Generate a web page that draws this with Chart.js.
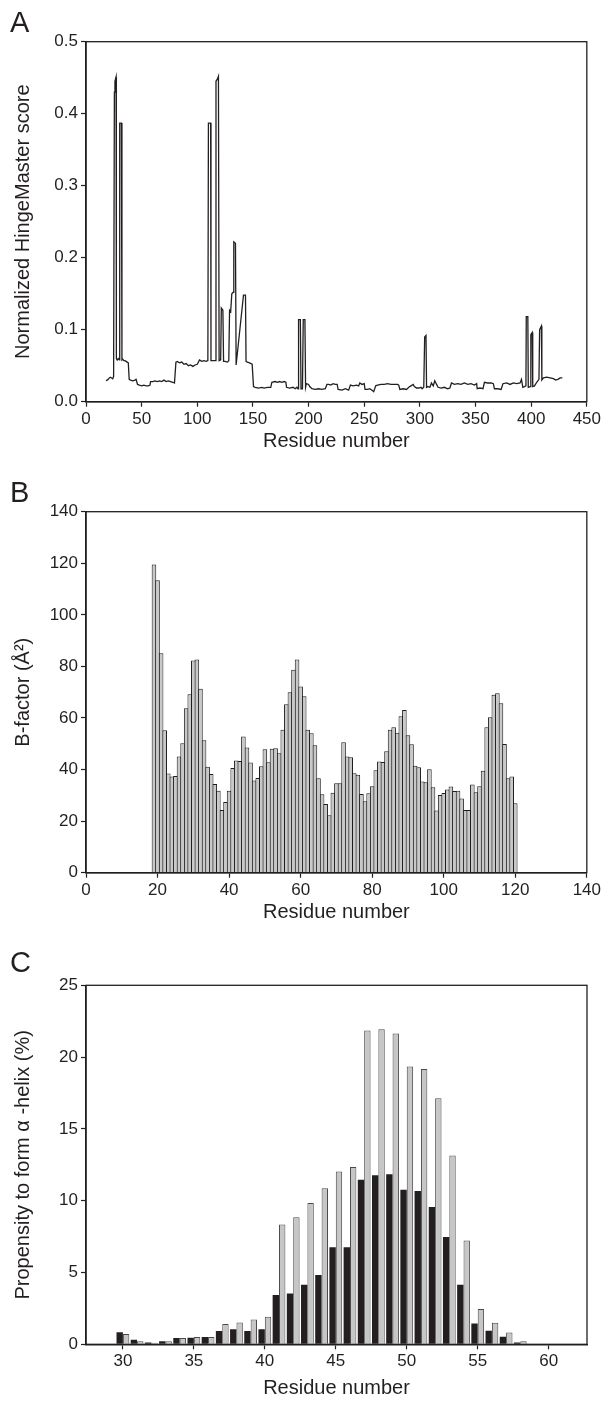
<!DOCTYPE html>
<html><head><meta charset="utf-8">
<script src="https://cdn.jsdelivr.net/npm/chart.js@4.4.1/dist/chart.umd.min.js"></script>
<style>
body{margin:0;background:#fff;}
#wrap{position:relative;width:603px;height:1402px;font-family:"Liberation Sans",Arial,Helvetica,sans-serif;}
canvas{position:absolute;left:0;}
.lbl{position:absolute;left:10px;font-size:29px;color:#231f20;line-height:1;}
</style></head><body>
<div id="wrap">
<canvas id="cA" width="603" height="470" style="top:0px"></canvas>
<canvas id="cB" width="603" height="470" style="top:470px"></canvas>
<canvas id="cC" width="603" height="462" style="top:940px"></canvas>
<div class="lbl" style="top:8px">A</div>
<div class="lbl" style="top:478px">B</div>
<div class="lbl" style="top:948px">C</div>
</div>
<script>
// ---------- Panel A: HingeMaster score ----------
const residueA = [18,19,20,21,22,23,24,24.8,25.5,26,27,27.3,28,29,30,30.3,31.8,32.3,33,34,35,36,37,38,38.8,40,42,44,45,46.3,48,50,52,54,56,57.5,58,60,62,64,66,68,70,72,74,76,78,79.5,80.8,82,84,86,88,90,92,94,96,98,100,102,104,106,108,109.5,110,112,112.3,114,116,116.8,118,119,119.6,121,121.6,123,123.6,125,127,128.3,129,130,131,132.3,132.8,134.3,134.9,141.5,143.3,143.8,145,147,149.3,150.5,152,155,158,160,163,166,167,170,172,174,176,178,179.6,180.2,183,186,188,189.5,190.5,191,192.6,193.2,194.5,195.2,196.7,197.3,198,200,201,203,206,209,212,215,216.5,218,220,222,224,225.7,226.5,230,233,236,237.6,240,243,245,246,248,250,250.7,253,255,257,258.5,260.3,262,265,268,271,274,277,280,281,282,285,288,290,292,294,295,297,299,301,302,303.5,304.3,305.5,306,307,309,310.4,312,313.4,315,316.4,319,322,325,327,328.4,331,334,337,340,343,346,349,351,351.5,354,356.7,358,361,364,366,367,370,373,374.6,378,381,384,387,390,391.3,392.5,394,395.3,395.6,397,397.4,399,399.7,400.9,401.4,403,405,407,407.6,409.2,409.6,411,414,417,420,422,424,426,428];
const scoreA = [0.029,0.030,0.031,0.033,0.034,0.033,0.032,0.035,0.430,0.445,0.451,0.060,0.058,0.060,0.058,0.387,0.387,0.058,0.059,0.057,0.057,0.056,0.055,0.054,0.031,0.030,0.029,0.030,0.031,0.024,0.023,0.022,0.023,0.022,0.022,0.023,0.028,0.028,0.029,0.028,0.029,0.028,0.030,0.028,0.029,0.028,0.027,0.026,0.055,0.056,0.054,0.055,0.052,0.053,0.050,0.051,0.049,0.051,0.052,0.058,0.056,0.057,0.056,0.057,0.387,0.387,0.057,0.057,0.057,0.445,0.448,0.452,0.057,0.058,0.130,0.127,0.056,0.056,0.055,0.057,0.127,0.125,0.150,0.152,0.222,0.220,0.051,0.148,0.148,0.056,0.055,0.054,0.052,0.021,0.020,0.019,0.020,0.019,0.020,0.020,0.027,0.028,0.027,0.028,0.027,0.028,0.027,0.020,0.019,0.020,0.018,0.020,0.018,0.114,0.114,0.018,0.018,0.114,0.114,0.020,0.025,0.024,0.021,0.018,0.017,0.018,0.017,0.018,0.024,0.024,0.023,0.025,0.024,0.024,0.017,0.016,0.018,0.016,0.023,0.022,0.023,0.022,0.026,0.024,0.025,0.017,0.017,0.018,0.016,0.014,0.022,0.023,0.024,0.024,0.025,0.024,0.024,0.024,0.023,0.017,0.018,0.017,0.020,0.022,0.024,0.021,0.019,0.019,0.020,0.018,0.020,0.090,0.092,0.020,0.021,0.020,0.026,0.022,0.029,0.024,0.020,0.019,0.020,0.018,0.019,0.026,0.024,0.025,0.024,0.026,0.024,0.025,0.023,0.025,0.018,0.019,0.018,0.027,0.026,0.026,0.025,0.018,0.018,0.017,0.025,0.026,0.024,0.026,0.025,0.026,0.031,0.020,0.021,0.022,0.118,0.118,0.020,0.021,0.093,0.096,0.021,0.022,0.027,0.031,0.100,0.105,0.030,0.033,0.034,0.033,0.032,0.030,0.031,0.033,0.033];
const xTicksA = [0,50,100,150,200,250,300,350,400,450];
const xTickLabelsA = ['0','50','100','150','200','250','300','350','400','450'];
const yTicksA = [0,0.1,0.2,0.3,0.4,0.5];
const yTickLabelsA = ['0.0','0.1','0.2','0.3','0.4','0.5'];

// ---------- Panel B: B-factor ----------
const residueB = [19,20,21,22,23,24,25,26,27,28,29,30,31,32,33,34,35,36,37,38,39,40,41,42,43,44,45,46,47,48,49,50,51,52,53,54,55,56,57,58,59,60,61,62,63,64,65,66,67,68,69,70,71,72,73,74,75,76,77,78,79,80,81,82,83,84,85,86,87,88,89,90,91,92,93,94,95,96,97,98,99,100,101,102,103,104,105,106,107,108,109,110,111,112,113,114,115,116,117,118,119,120];
const bFactorB = [119.5,113.4,85.1,55.2,38.5,37.3,37.5,45.1,50.2,63.8,69.2,82.3,82.7,71.3,51.4,41.1,38.3,34.4,31.8,24.3,27.4,31.8,40.6,43.5,43.3,52.8,48.6,42.7,35.8,36.7,41.3,47.9,42.8,48.1,48.3,46.3,55.4,65.3,70.0,78.7,82.7,72.2,68.4,55.4,54.1,49.4,36.6,30.4,26.6,22.3,31.0,34.7,34.7,50.6,45.1,44.8,38.6,38.0,30.5,27.7,30.8,33.5,39.7,43.1,42.9,47.1,55.4,56.4,54.3,60.7,63.1,53.3,49.8,41.5,40.9,35.4,35.1,40.1,33.1,24.1,30.1,30.9,32.3,33.4,31.7,31.8,28.8,24.3,24.3,34.2,31.2,33.5,39.5,56.4,60.3,69.0,69.6,65.7,49.9,36.6,37.3,26.9];
const xTicksB = [0,20,40,60,80,100,120,140];
const xTickLabelsB = ['0','20','40','60','80','100','120','140'];
const yTicksB = [0,20,40,60,80,100,120,140];
const yTickLabelsB = ['0','20','40','60','80','100','120','140'];

// ---------- Panel C: alpha-helix propensity ----------
const residueC = [30,31,32,33,34,35,36,37,38,39,40,41,42,43,44,45,46,47,48,49,50,51,52,53,54,55,56,57,58];
const helixBlack = [0.84,0.32,0.13,0.22,0.44,0.45,0.51,0.92,1.04,0.92,1.04,3.44,3.53,4.14,4.83,6.75,6.75,11.46,11.78,11.85,10.76,10.67,9.56,7.48,4.14,1.44,0.95,0.53,0.12];
const helixGray = [0.72,0.22,0.11,0.22,0.44,0.51,0.51,1.42,1.51,1.72,1.91,8.35,8.85,9.84,10.86,12.04,12.34,21.85,21.94,21.64,19.35,19.17,17.13,13.15,7.22,2.45,1.50,0.83,0.22];
const xTicksC = [30,35,40,45,50,55,60];
const xTickLabelsC = ['30','35','40','45','50','55','60'];
const yTicksC = [0,5,10,15,20,25];
const yTickLabelsC = ['0','5','10','15','20','25'];

// ---------- common styling ----------
const INK = '#231f20';
Chart.defaults.font.family = "'Liberation Sans', Arial, Helvetica, sans-serif";
Chart.defaults.color = INK;

const framePlugin = {
  id: 'frame',
  afterDatasetsDraw(chart) {
    const {ctx, chartArea: {left, top, right, bottom}} = chart;
    ctx.save();
    ctx.strokeStyle = INK;
    ctx.lineWidth = 1.3;
    ctx.strokeRect(left, top, right - left, bottom - top);
    ctx.restore();
  }
};

function gridCfg() {
  return {display: true, drawOnChartArea: false, drawTicks: true, tickLength: 5, tickWidth: 1.2, tickColor: INK, offset: false};
}
function xAxis(min, max, ticks, labels, title, axisH, titlePad) {
  return {
    type: 'linear', min, max, offset: false,
    afterBuildTicks: s => { s.ticks = ticks.map(v => ({value: v})); },
    afterFit: s => { s.height = axisH; },
    grid: gridCfg(),
    border: {display: true, color: INK, width: 1.5},
    ticks: {font: {size: 17}, color: INK, padding: 2, maxRotation: 0, autoSkip: false,
            callback: (v, i) => labels[i]},
    title: {display: true, text: title, font: {size: 20}, color: INK, padding: {top: 0, bottom: titlePad}}
  };
}
function yAxis(min, max, ticks, labels, title) {
  return {
    type: 'linear', min, max,
    afterBuildTicks: s => { s.ticks = ticks.map(v => ({value: v})); },
    afterFit: s => { s.width = 86; },
    grid: gridCfg(),
    border: {display: true, color: INK, width: 1.5},
    ticks: {font: {size: 17}, color: INK, padding: 3, autoSkip: false,
            callback: (v, i) => labels[i]},
    title: {display: true, text: title, font: {size: 20}, color: INK, padding: {top: 11, bottom: 0}}
  };
}
const baseOpts = {
  responsive: false, animation: false, devicePixelRatio: 1,
  plugins: {legend: {display: false}, tooltip: {enabled: false}, title: {display: false}}
};

// Panel A
new Chart(document.getElementById('cA'), {
  type: 'line',
  data: {datasets: [{
    data: residueA.map((x, i) => ({x, y: scoreA[i]})),
    borderColor: INK, borderWidth: 1.3, pointRadius: 0, tension: 0, fill: false
  }]},
  options: Object.assign({}, baseOpts, {
    layout: {padding: {top: 41.7, right: 16, left: 0, bottom: 0}},
    scales: {
      x: xAxis(0, 450, xTicksA, xTickLabelsA, 'Residue number', 68.3, 17),
      y: yAxis(0, 0.5, yTicksA, yTickLabelsA, 'Normalized HingeMaster score')
    }
  }),
  plugins: [framePlugin]
});

// Panel B
new Chart(document.getElementById('cB'), {
  type: 'bar',
  data: {datasets: [{
    data: residueB.map((x, i) => ({x, y: bFactorB[i]})),
    backgroundColor: '#c8c8c8', borderColor: '#1e1e1e', borderWidth: 1, borderSkipped: 'start',
    barPercentage: 1.28, categoryPercentage: 1
  }]},
  options: Object.assign({}, baseOpts, {
    layout: {padding: {top: 41.7, right: 16, left: 0, bottom: 0}},
    scales: {
      x: xAxis(0, 140, xTicksB, xTickLabelsB, 'Residue number', 67.3, 16),
      y: yAxis(0, 140, yTicksB, yTickLabelsB, 'B-factor (Å²)')
    }
  }),
  plugins: [framePlugin]
});

// Panel C
new Chart(document.getElementById('cC'), {
  type: 'bar',
  data: {datasets: [
    {data: residueC.map((x, i) => ({x, y: helixBlack[i]})),
     backgroundColor: INK, borderWidth: 0, barPercentage: 1, categoryPercentage: 0.9},
    {data: residueC.map((x, i) => ({x, y: helixGray[i]})),
     backgroundColor: '#c6c6c6', borderColor: '#4a4a4a', borderWidth: 1, borderSkipped: 'start',
     barPercentage: 1, categoryPercentage: 0.9}
  ]},
  options: Object.assign({}, baseOpts, {
    layout: {padding: {top: 45.3, right: 16, left: 0, bottom: 0}},
    scales: {
      x: xAxis(27.4, 62.7, xTicksC, xTickLabelsC, 'Residue number', 57.7, 2),
      y: yAxis(0, 25, yTicksC, yTickLabelsC, 'Propensity to form α -helix (%)')
    }
  }),
  plugins: [framePlugin]
});
</script>
</body></html>
